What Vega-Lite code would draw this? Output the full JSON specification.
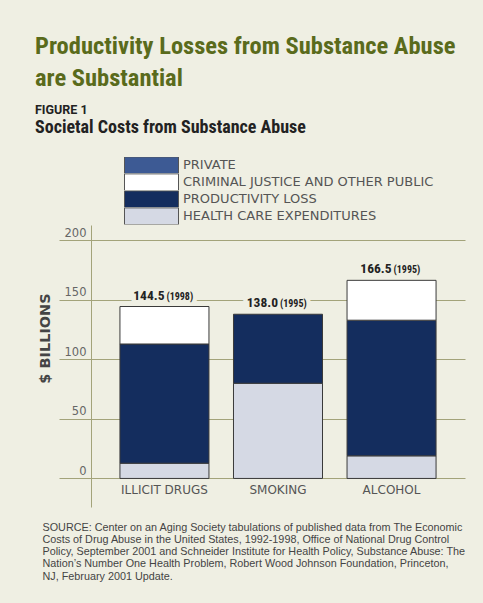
{
  "$schema": "https://vega.github.io/schema/vega-lite/v6.json",
  "width": 374,
  "height": 282,
  "autosize": {"type": "none"},
  "padding": {"left": 91, "top": 225, "right": 18, "bottom": 96},
  "background": "#efefe3",
  "title": {
    "text": ["Productivity Losses from Substance Abuse", "are Substantial"],
    "subtitle": "FIGURE 1",
    "anchor": "start",
    "frame": "group",
    "dx": -56,
    "font": "Roboto Condensed, Roboto, sans-serif",
    "fontSize": 24.5,
    "fontWeight": "bold",
    "color": "#5a6b1c",
    "lineHeight": 32,
    "subtitleFont": "Roboto, sans-serif",
    "subtitleFontSize": 12.5,
    "subtitleFontWeight": "bold",
    "subtitleColor": "#222222",
    "subtitlePadding": 12,
    "offset": 2
  },
  "datasets": {
    "segments": [
      {"category": "ILLICIT DRUGS", "segment": "HEALTH CARE EXPENDITURES", "ord": 1, "value": 12.8},
      {"category": "ILLICIT DRUGS", "segment": "PRODUCTIVITY LOSS", "ord": 2, "value": 100.2},
      {"category": "ILLICIT DRUGS", "segment": "CRIMINAL JUSTICE AND OTHER PUBLIC", "ord": 3, "value": 31.5},
      {"category": "SMOKING", "segment": "HEALTH CARE EXPENDITURES", "ord": 1, "value": 80.0},
      {"category": "SMOKING", "segment": "PRODUCTIVITY LOSS", "ord": 2, "value": 58.0},
      {"category": "ALCOHOL", "segment": "HEALTH CARE EXPENDITURES", "ord": 1, "value": 19.0},
      {"category": "ALCOHOL", "segment": "PRODUCTIVITY LOSS", "ord": 2, "value": 114.0},
      {"category": "ALCOHOL", "segment": "CRIMINAL JUSTICE AND OTHER PUBLIC", "ord": 3, "value": 33.5}
    ],
    "totals": [
      {"category": "ILLICIT DRUGS", "total": 144.5, "amount": "144.5", "year": "(1998)"},
      {"category": "SMOKING", "total": 138.0, "amount": "138.0", "year": "(1995)"},
      {"category": "ALCOHOL", "total": 166.5, "amount": "166.5", "year": "(1995)"}
    ]
  },
  "encoding": {
    "x": {
      "field": "category",
      "type": "nominal",
      "sort": ["ILLICIT DRUGS", "SMOKING", "ALCOHOL"],
      "scale": {"paddingInner": 0.216, "paddingOuter": 0.255},
      "axis": {
        "title": [
          "SOURCE: Center on an Aging Society tabulations of published data from The Economic",
          "Costs of Drug Abuse in the United States, 1992-1998, Office of National Drug Control",
          "Policy, September 2001 and Schneider Institute for Health Policy, Substance Abuse: The",
          "Nation’s Number One Health Problem, Robert Wood Johnson Foundation, Princeton,",
          "NJ, February 2001 Update."
        ],
        "titleFont": "Liberation Sans, Arial, sans-serif",
        "titleFontSize": 10.8,
        "titleFontWeight": "normal",
        "titleColor": "#444444",
        "titleLineHeight": 12.3,
        "titleAnchor": "start",
        "titleAlign": "left",
        "titleBaseline": "top",
        "titleX": -49,
        "titleY": 14,
        "labelAngle": 0,
        "labelFont": "DejaVu Sans",
        "labelFontSize": 12,
        "labelColor": "#555555",
        "labelBaseline": "top",
        "labelPadding": -23,
        "ticks": false,
        "domain": false,
        "grid": false
      }
    }
  },
  "layer": [
    {
      "data": {"name": "totals"},
      "mark": {"type": "text", "align": "right", "baseline": "alphabetic", "dy": -7, "dx": 0,
               "font": "Roboto Condensed, Roboto, sans-serif", "fontSize": 13.5, "fontWeight": "bold",
               "fill": "#efefe3", "stroke": "#efefe3", "strokeWidth": 9},
      "encoding": {
        "y": {"field": "total", "type": "quantitative"},
        "text": {"field": "amount"}
      }
    },
    {
      "data": {"name": "totals"},
      "mark": {"type": "text", "align": "left", "baseline": "alphabetic", "dy": -7, "dx": 2,
               "font": "Roboto Condensed, Roboto, sans-serif", "fontSize": 10, "fontWeight": "bold",
               "fill": "#efefe3", "stroke": "#efefe3", "strokeWidth": 9},
      "encoding": {
        "y": {"field": "total", "type": "quantitative"},
        "text": {"field": "year"}
      }
    },
    {
      "data": {"name": "segments"},
      "mark": {"type": "bar", "stroke": "#3a3a3a", "strokeWidth": 1},
      "encoding": {
        "y": {
          "field": "value",
          "type": "quantitative",
          "stack": "zero",
          "scale": {"domain": [-24, 213], "nice": false, "zero": false},
          "axis": {
            "title": "$ BILLIONS",
            "titleFont": "DejaVu Sans",
            "titleFontSize": 14.5,
            "titleFontWeight": "bold",
            "titleColor": "#444444",
            "titleX": -46,
            "titleY": 113,
            "titleAngle": -90,
            "titleAlign": "center",
            "titleBaseline": "middle",
            "values": [0, 50, 100, 150, 200],
            "grid": true,
            "gridColor": "#a3a37a",
            "gridWidth": 1,
            "tickColor": "#a3a37a",
            "tickSize": 32,
            "domainColor": "#a3a37a",
            "labelFont": "DejaVu Sans",
            "labelFontSize": 11.5,
            "labelColor": "#666666",
            "labelAlign": "right",
            "labelBaseline": "bottom",
            "labelPadding": -27,
            "labelOffset": -2
          }
        },
        "fill": {
          "field": "segment",
          "type": "nominal",
          "scale": {
            "domain": ["PRIVATE", "CRIMINAL JUSTICE AND OTHER PUBLIC", "PRODUCTIVITY LOSS", "HEALTH CARE EXPENDITURES"],
            "range": ["#3d5a94", "#ffffff", "#142d5e", "#d5d9e4"]
          },
          "legend": {
            "title": "Societal Costs from Substance Abuse",
            "orient": "none",
            "legendX": -56,
            "legendY": -106,
            "titleFont": "Roboto Condensed, Roboto, sans-serif",
            "titleFontSize": 18,
            "titleFontWeight": "bold",
            "titleColor": "#222222",
            "titlePadding": 20,
            "titleLimit": 400,
            "symbolType": "M-1,-0.31H1V0.31H-1Z",
            "symbolSize": 2916,
            "symbolStrokeColor": "#555555",
            "symbolStrokeWidth": 1,
            "symbolOpacity": 1,
            "symbolOffset": 89,
            "clipHeight": 16.5,
            "rowPadding": 0,
            "labelOffset": 4,
            "labelFont": "DejaVu Sans",
            "labelFontSize": 13,
            "labelColor": "#555555",
            "labelLimit": 400
          }
        },
        "order": {"field": "ord", "type": "quantitative"}
      }
    },
    {
      "data": {"name": "totals"},
      "mark": {"type": "text", "align": "right", "baseline": "alphabetic", "dy": -7, "dx": 0,
               "font": "Roboto Condensed, Roboto, sans-serif", "fontSize": 13.5, "fontWeight": "bold", "color": "#222222"},
      "encoding": {
        "y": {"field": "total", "type": "quantitative"},
        "text": {"field": "amount"}
      }
    },
    {
      "data": {"name": "totals"},
      "mark": {"type": "text", "align": "left", "baseline": "alphabetic", "dy": -7, "dx": 2,
               "font": "Roboto Condensed, Roboto, sans-serif", "fontSize": 10, "fontWeight": "bold", "color": "#222222"},
      "encoding": {
        "y": {"field": "total", "type": "quantitative"},
        "text": {"field": "year"}
      }
    }
  ],
  "config": {
    "view": {"stroke": null}
  }
}
